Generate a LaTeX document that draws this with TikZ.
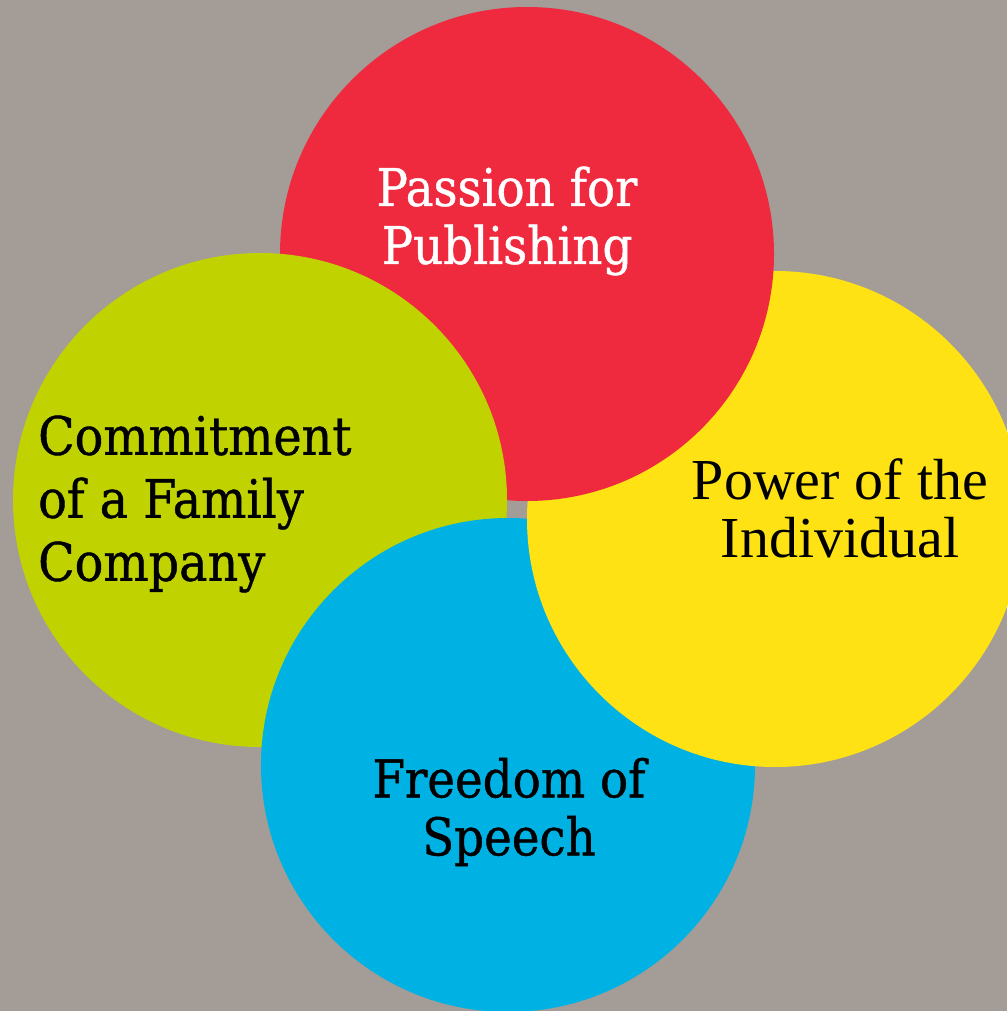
\documentclass[tikz,border=0pt]{standalone}
\usepackage{fontspec}
\setmainfont[FakeBold=0.8]{DejaVu Serif Condensed}
\newfontfamily\timesfont{Liberation Serif}
\definecolor{bggrey}{RGB}{163,156,151}
\definecolor{passred}{RGB}{239,42,62}
\definecolor{powyellow}{RGB}{255,226,20}
\definecolor{freeblue}{RGB}{0,178,228}
\definecolor{famgreen}{RGB}{192,211,0}
\tikzset{
  circlabel/.style={align=center, inner sep=0pt, font=\fontsize{52}{58}\selectfont},
}

\begin{document}
\begin{tikzpicture}[x=1pt, y=-1pt]

\fill[bggrey] (0,0) rectangle (1007,1011);
\useasboundingbox (0,0) rectangle (1007,1011);

\coordinate (redc) at (527,254);
\coordinate (yellowc) at (775,519);
\coordinate (bluec) at (508,765);
\coordinate (greenc) at (260,500);

\fill[freeblue] (bluec) circle [radius=247pt];
\fill[powyellow] (yellowc) circle [radius=248pt];
\fill[passred] (redc) circle [radius=247pt];
\fill[famgreen] (greenc) circle [radius=247pt];

% blue lies over green
\begin{scope}
\clip (greenc) circle [radius=249pt];
\fill[freeblue] (bluec) circle [radius=247pt];
\end{scope}

\node[circlabel, text=white] (passion) at (507,221) {Passion for\\Publishing};
\node[circlabel, font=\timesfont\fontsize{58}{58}\selectfont] (power) at (840,508) {Power of the\\Individual};
\node[circlabel] (freedom) at (509,812) {Freedom of\\Speech};
\node[circlabel, align=left, anchor=west, font=\fontsize{53}{63}\selectfont] (commit) at (38,504) {Commitment\\of a Family\\Company};

\end{tikzpicture}
\end{document}
